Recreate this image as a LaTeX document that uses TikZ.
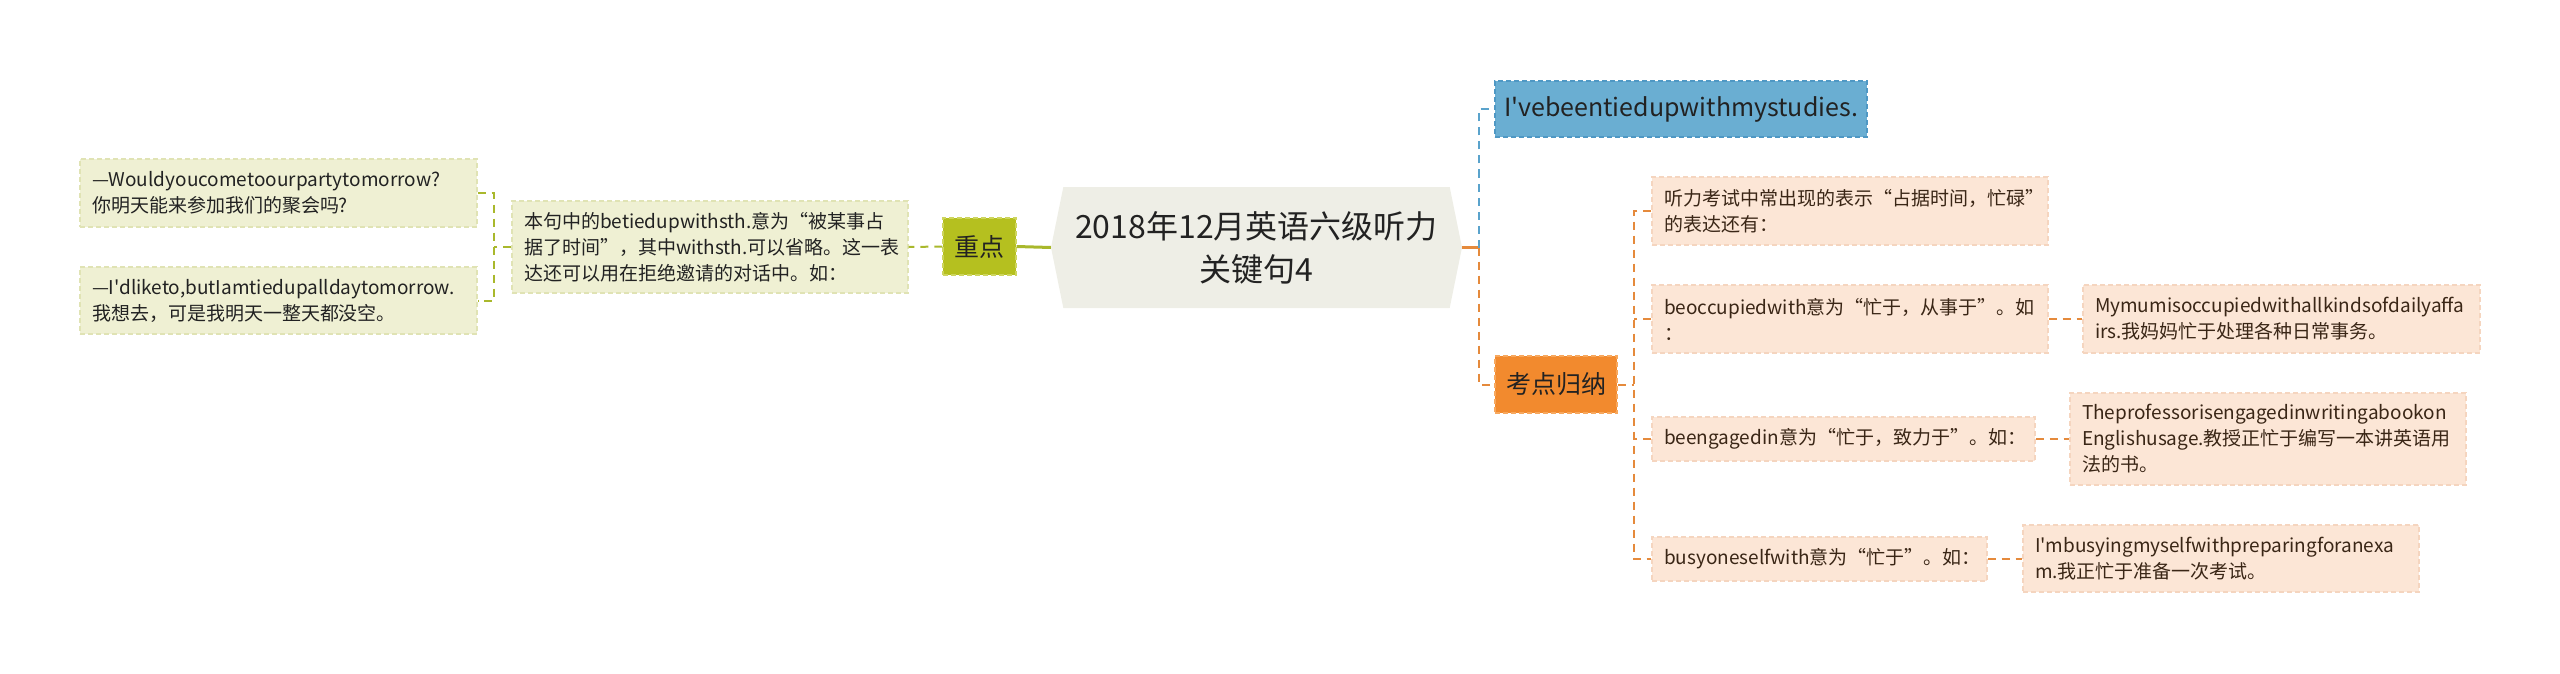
\documentclass[tikz,border=0pt]{standalone}
\usepackage{fontspec}
\setmainfont{Noto Sans CJK SC}[Ligatures=TeXOff]
\usetikzlibrary{shapes.symbols}

\definecolor{rootfill}{HTML}{EEEEE6}
\definecolor{gfill}{HTML}{EFF0D3}
\definecolor{gborder}{HTML}{E0E3B4}
\definecolor{gline}{HTML}{A9B82C}
\definecolor{zdfill}{HTML}{B5C01F}
\definecolor{zdborder}{HTML}{CDD55E}
\definecolor{bfill}{HTML}{6AAED2}
\definecolor{bborder}{HTML}{4F98C4}
\definecolor{bline}{HTML}{5AA3CC}
\definecolor{kdfill}{HTML}{F28A2E}
\definecolor{kdborder}{HTML}{F7A85E}
\definecolor{ofill}{HTML}{FCE6D6}
\definecolor{oborder}{HTML}{F5D5BF}
\definecolor{oline}{HTML}{E58A3C}
\definecolor{ink}{HTML}{222222}
\definecolor{brownink}{HTML}{3A2616}

\tikzset{
	box/.style={rectangle, dashed, line width=1.2pt, dash pattern=on 5pt off 3pt,
		inner xsep=12pt, inner ysep=4pt, align=left, text=ink,
		font=\fontsize{19}{26}\selectfont},
	gbox/.style={box, fill=gfill, draw=gborder},
	obox/.style={box, fill=ofill, draw=oborder, text=brownink},
	gline/.style={draw=gline, line width=2pt, dash pattern=on 8pt off 6pt},
	oline/.style={draw=oline, line width=2pt, dash pattern=on 8pt off 6pt},
	bline/.style={draw=bline, line width=2pt, dash pattern=on 8pt off 6pt}
}

\begin{document}
\begin{tikzpicture}[x=1pt,y=-1pt]
	\useasboundingbox (0,0) rectangle (2560,674);
	%Wurzel
	\node[shape=signal, signal to=west and east, signal pointer angle=157,
		fill=rootfill, minimum width=411pt, minimum height=121pt, align=center,
		text=ink, font=\fontsize{32}{43}\selectfont]
		(root) at (1256.5,247.5) {2018年12月英语六级听力\\关键句4};
	%linker Ast
	\node[box, fill=zdfill, draw=zdborder, minimum width=73pt, minimum height=57pt,
		inner xsep=0pt, align=center, font=\fontsize{25}{30}\selectfont]
		(zd) at (979.5,246.5) {重点};
	\node[gbox, text width=372pt, minimum height=92pt] (expl) at (710,247)
		{本句中的betiedupwithsth.意为“被某事占\\据了时间”，其中withsth.可以省略。这一表\\达还可以用在拒绝邀请的对话中。如：};
	\node[gbox, text width=373pt, minimum height=68pt] (q1) at (278.5,193)
		{—Wouldyoucometoourpartytomorrow?\\你明天能来参加我们的聚会吗?};
	\node[gbox, text width=373pt, minimum height=67pt] (q2) at (278.5,300.5)
		{—I'dliketo,butIamtiedupalldaytomorrow.\\我想去，可是我明天一整天都没空。};
	\coordinate (lj) at (494,247);
	\draw[draw=gline, line width=3pt] (root.west) -- (zd.east);
	\draw[gline] (zd.west) -- (expl.west -| expl.east);
	\draw[gline] (expl.west) -- (lj);
	\draw[gline] (q1.east) -| (lj) |- (q2.east);
	%rechter Ast
	\node[box, fill=bfill, draw=bborder, minimum width=372pt, minimum height=56pt,
		inner xsep=0pt, align=center, font=\fontsize{25}{30}\selectfont]
		(blue) at (1681,109) {I'vebeentiedupwithmystudies.};
	\node[box, fill=kdfill, draw=kdborder, minimum width=122pt, minimum height=57pt,
		inner xsep=0pt, align=center, font=\fontsize{25}{30}\selectfont]
		(kd) at (1556,384.5) {考点归纳};
	\coordinate (rj) at (1479,247.5);
	\draw[draw=oline, line width=3pt] (root.east) -- (rj);
	\draw[bline] (rj) |- (blue.west);
	\draw[oline] (rj) |- (kd.west);
	%Unterpunkte
	\node[obox, text width=372pt, minimum height=68pt] (s1) at (1850,211)
		{听力考试中常出现的表示“占据时间，忙碌”\\的表达还有：};
	\node[obox, text width=372pt, minimum height=68pt] (s2) at (1850,319)
		{beoccupiedwith意为“忙于，从事于”。如\\：};
	\node[obox, text width=359pt, minimum height=44pt] (s3) at (1843.5,439)
		{beengagedin意为“忙于，致力于”。如：};
	\node[obox, text width=311pt, minimum height=44pt] (s4) at (1819.5,559)
		{busyoneselfwith意为“忙于”。如：};
	\node[obox, text width=373pt, minimum height=68pt] (l2) at (2281.5,319)
		{Mymumisoccupiedwithallkindsofdailyaffa\\irs.我妈妈忙于处理各种日常事务。};
	\node[obox, text width=372pt, minimum height=92pt] (l3) at (2268,439)
		{Theprofessorisengagedinwritingabookon\\Englishusage.教授正忙于编写一本讲英语用\\法的书。};
	\node[obox, text width=372pt, minimum height=67pt] (l4) at (2221,558.5)
		{I'mbusyingmyselfwithpreparingforanexa\\m.我正忙于准备一次考试。};
	\coordinate (kj) at (1634,384.5);
	\draw[oline] (kd.east) -- (kj);
	\draw[oline] (s1.west) -| (kj) |- (s4.west);
	\foreach \n in {s2,s3}
		\draw[oline] (\n.west) -- (\n.west -| kj);
	\foreach \a/\b in {s2/l2,s3/l3,s4/l4}
		\draw[oline] (\a.east) -- (\a.east -| \b.west);
\end{tikzpicture}
\end{document}
